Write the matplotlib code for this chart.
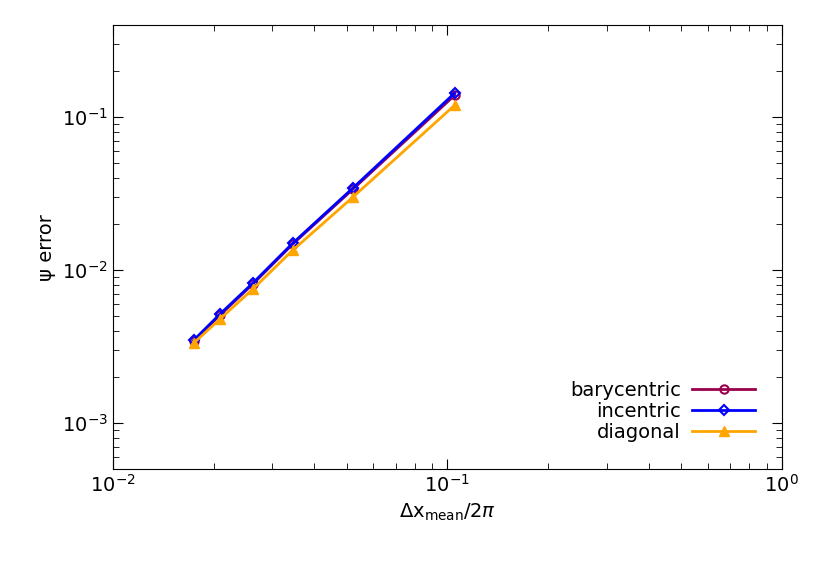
import matplotlib
matplotlib.use("Agg")
import matplotlib.pyplot as plt

dx = [0.01746, 0.0209, 0.0262, 0.0345, 0.0522, 0.1052]
bary = [0.00344, 0.00508, 0.0081, 0.0148, 0.0338, 0.139]
inc = [0.00349, 0.00516, 0.00822, 0.0150, 0.0344, 0.1436]
diag = [0.00334, 0.00479, 0.00751, 0.0135, 0.0300, 0.1197]

fig = plt.figure(figsize=(8.3, 5.8), dpi=100)
ax = fig.add_axes([0.136, 0.191, 0.806, 0.766])
ax.plot(dx, bary, color="#99004d", lw=2, marker="o", mfc="none", mew=1.5, ms=6, label="barycentric")
ax.plot(dx, inc, color="#0000ff", lw=2, marker="D", mfc="none", mew=1.5, ms=5, label="incentric")
ax.plot(dx, diag, color="#ffa500", lw=2, marker="^", ms=7, label="diagonal")
ax.set_xscale("log"); ax.set_yscale("log")
ax.set_xlim(0.01, 1); ax.set_ylim(5e-4, 0.4)
ax.tick_params(which="both", direction="in", top=True, right=True, labelsize=14)
ax.tick_params(which="major", length=7)
ax.tick_params(which="minor", length=4)
ax.set_xlabel(r"$\Delta$x$_{\mathrm{mean}}$/2$\pi$", fontsize=14)
ax.set_ylabel("ψ error", fontsize=14)
ax.legend(loc="lower right", frameon=False, markerfirst=False, fontsize=14,
          handlelength=3.2, labelspacing=0.1, borderaxespad=1.0, handletextpad=0.6)
fig.savefig("out.png", dpi=100)
